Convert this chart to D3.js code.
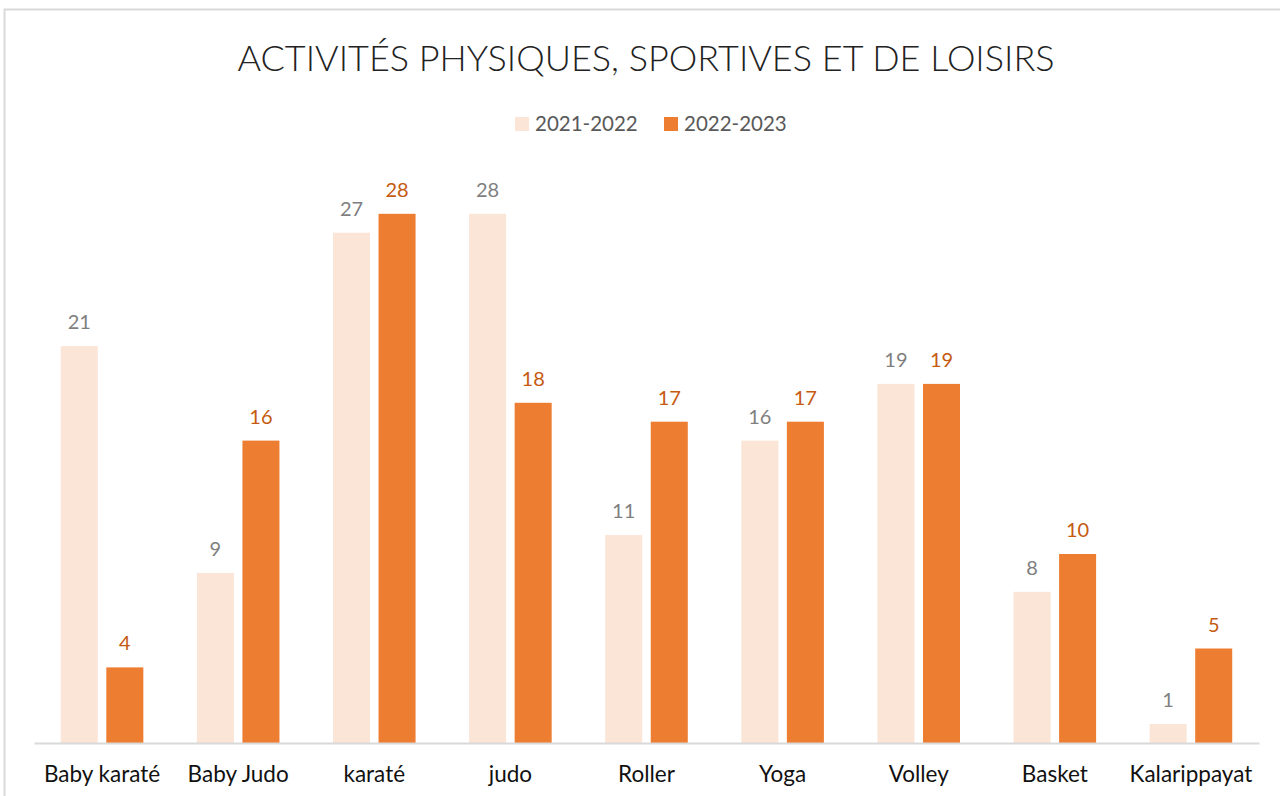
<!DOCTYPE html>
<html><head><meta charset="utf-8">
<script src="https://cdn.jsdelivr.net/npm/d3@7"></script>
<style>html,body{margin:0;padding:0;background:#fff;}svg{display:block;font-family:Lato,"Open Sans",sans-serif;}</style>
</head><body>
<script>
const categories = ["Baby karaté","Baby Judo","karaté","judo","Roller","Yoga","Volley","Basket","Kalarippayat"];
const seriesNames = ["2021-2022","2022-2023"];
const values2021 = [21,9,27,28,11,16,19,8,1];
const values2022 = [4,16,28,18,17,17,19,10,5];
const seriesValues = [values2021, values2022];
const barColors = ["#fbe5d6","#ed7d31"];
const labelColors = ["#7f7f7f","#c55a11"];

const W = 1280, H = 796;
const svg = d3.select("body").append("svg").attr("width", W).attr("height", H);
svg.append("rect").attr("x",0).attr("y",0).attr("width",W).attr("height",H).attr("fill","#fff");
svg.append("rect").attr("x",4.5).attr("y",9.5).attr("width",W+20).attr("height",H+20)
  .attr("fill","none").attr("stroke","#d9d9d9").attr("stroke-width",2);

const x0 = d3.scaleBand().domain(categories).range([34,1259]).padding(0);
const x1 = d3.scaleBand().domain(seriesNames).range([0,x0.bandwidth()]).paddingInner(0.187).paddingOuter(0.588);
const y = d3.scaleLinear().domain([0,30]).range([743,176]);

svg.append("text").attr("x",646).attr("y",71).attr("text-anchor","middle")
  .attr("font-size",36).attr("font-weight",300).attr("fill","#222").text("ACTIVITÉS PHYSIQUES, SPORTIVES ET DE LOISIRS");

// legend
const legX = [515,664];
seriesNames.forEach((s,i)=>{
  svg.append("rect").attr("x",legX[i]).attr("y",117).attr("width",14).attr("height",14).attr("fill",barColors[i]);
  svg.append("text").attr("x",legX[i]+20).attr("y",131).attr("font-size",20.5).attr("fill","#595959").text(s);
});

const groups = svg.selectAll("g.cat").data(categories).enter().append("g")
  .attr("transform", d=>`translate(${x0(d)},0)`);

seriesNames.forEach((s,si)=>{
  groups.append("rect")
    .attr("x", x1(s)).attr("width", x1.bandwidth())
    .attr("y", (d,i)=>y(seriesValues[si][i]))
    .attr("height", (d,i)=>y(0)-y(seriesValues[si][i]))
    .attr("fill", barColors[si]);
  groups.append("text")
    .attr("x", x1(s)+x1.bandwidth()/2)
    .attr("y", (d,i)=>y(seriesValues[si][i])-17)
    .attr("text-anchor","middle").attr("font-size",20).attr("fill",labelColors[si])
    .text((d,i)=>seriesValues[si][i]);
});

const xAxis = d3.axisBottom(x0).tickSize(0).tickPadding(0);
const ax = svg.append("g").attr("transform","translate(0,743)").call(xAxis);
ax.select(".domain").attr("stroke","#d9d9d9").attr("stroke-width",2);
ax.selectAll("text").attr("font-size",22.5).attr("fill","#111").attr("font-family","Lato,'Open Sans',sans-serif")
  .attr("dy",null).attr("y",39);
</script>
</body></html>
